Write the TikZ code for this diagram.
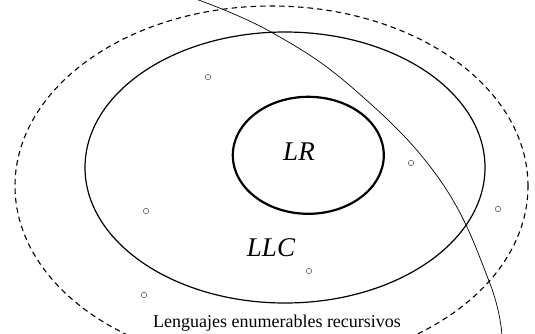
\documentclass[tikz,border=0pt]{standalone}
\usepackage{fontspec}
\setmainfont{Liberation Serif}
\begin{document}
\begin{tikzpicture}[x=1pt,y=-1pt,
  dot/.style={circle,draw=black!75,line width=0.45pt,minimum size=5.5pt,inner sep=0pt},
  bigtext/.style={font=\fontsize{27}{30}\selectfont\itshape,inner sep=0pt,anchor=base},
  labeltext/.style={font=\fontsize{18}{22}\selectfont,inner sep=0pt,anchor=base}]
\useasboundingbox (0,0) rectangle (535,333);
\clip (0,0) rectangle (535,333);
% outer dashed ellipse
\draw[line width=1.1pt,dash pattern=on 5.5pt off 4pt] (271.5,186) ellipse [x radius=256.5pt, y radius=180pt];
% middle ellipse
\draw[line width=1.2pt] (285,167.5) ellipse [x radius=200pt, y radius=135.5pt];
% inner thick ellipse
\draw[line width=2.2pt] (308.3,155.3) ellipse [x radius=75.5pt, y radius=58.5pt];
% arc
\draw[line width=0.7pt] plot[smooth,tension=0.7] coordinates {(193,-2) (271,32) (355,90) (440,180) (489,281) (502,336)};
% labels
\node[bigtext] (lr) at (299,160) {LR};
\node[bigtext] (llc) at (271,256.7) {LLC};
\node[labeltext] (lre) at (277,327) {Lenguajes enumerables recursivos};
% small circles
\node[dot] (d1) at (208,77) {};
\node[dot] (d2) at (411,163) {};
\node[dot] (d3) at (146,211) {};
\node[dot] (d4) at (498,209) {};
\node[dot] (d5) at (309,271) {};
\node[dot] (d6) at (144,295) {};
\end{tikzpicture}
\end{document}
